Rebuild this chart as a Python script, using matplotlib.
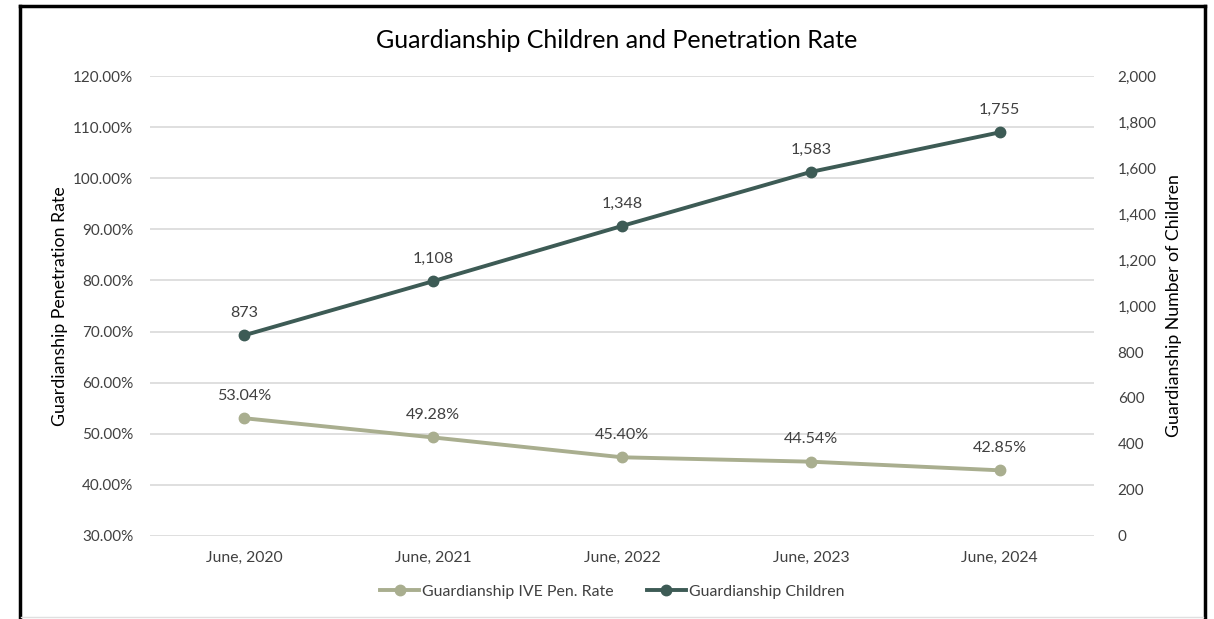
import matplotlib
matplotlib.use("Agg")
import matplotlib.pyplot as plt
from matplotlib.lines import Line2D
from matplotlib.ticker import FuncFormatter, MultipleLocator

categories = ["June, 2020", "June, 2021", "June, 2022", "June, 2023", "June, 2024"]
pen_rate = [53.04, 49.28, 45.40, 44.54, 42.85]
children = [873, 1108, 1348, 1583, 1755]

plt.rcParams['font.family'] = ['Lato', 'DejaVu Sans']
light = "#A9AE8F"
dark = "#3D5B55"
txt = "#404040"

fig = plt.figure(figsize=(12.14, 6.19), dpi=100)
ax = fig.add_axes([0.1236, 0.1341, 0.7776, 0.7431])
ax2 = ax.twinx()

x = list(range(len(categories)))
ax.plot(x, pen_rate, color=light, lw=2.8, marker='o', ms=7.5, solid_capstyle='round', zorder=3)
ax2.plot(x, children, color=dark, lw=2.8, marker='o', ms=7.5, solid_capstyle='round', zorder=3)

ax.set_xlim(-0.5, 4.5)
ax.set_ylim(30, 120)
ax2.set_ylim(0, 2000)
ax.yaxis.set_major_locator(MultipleLocator(10))
ax2.yaxis.set_major_locator(MultipleLocator(200))
ax.yaxis.set_major_formatter(FuncFormatter(lambda v, p: f"{v:.2f}%"))
ax2.yaxis.set_major_formatter(FuncFormatter(lambda v, p: f"{int(v):,}"))
ax.set_xticks(x)
ax.set_xticklabels(categories)

ax.grid(axis='y', color='#D9D9D9', lw=1.2)
ax.set_axisbelow(True)
for a in (ax, ax2):
    for s in a.spines.values():
        s.set_visible(False)
    a.tick_params(length=0, labelsize=11, colors=txt)
ax.tick_params(axis='x', labelsize=11.3)
ax.tick_params(axis='y', pad=12)
ax2.tick_params(axis='y', pad=17)
ax.tick_params(axis='x', pad=11)

ax.set_ylabel("Guardianship Penetration Rate", fontsize=12.8, color='black', labelpad=4)
ax2.set_ylabel("Guardianship Number of Children", fontsize=12.8, color='black', labelpad=7)

for xi, v in zip(x, pen_rate):
    ax.annotate(f"{v:.2f}%", (xi, v), xytext=(0, 16), textcoords='offset points',
                ha='center', va='center', fontsize=11.6, color=txt)
for xi, v in zip(x, children):
    ax2.annotate(f"{v:,}", (xi, v), xytext=(0, 16), textcoords='offset points',
                 ha='center', va='center', fontsize=11.6, color=txt)

fig.text(0.508, 0.935, "Guardianship Children and Penetration Rate", ha='center', va='center',
         fontsize=18, color='black')

handles = [Line2D([], [], color=light, lw=2.8, marker='o', ms=7.5),
           Line2D([], [], color=dark, lw=2.8, marker='o', ms=7.5)]
fig.legend(handles, ["Guardianship IVE Pen. Rate", "Guardianship Children"],
           loc='center', bbox_to_anchor=(0.504, 0.044), ncol=2, frameon=False,
           fontsize=11.4, handlelength=2.5, columnspacing=2.1, handletextpad=0.15,
           labelcolor=txt)

# chart border
W, H = 1214, 619
def fx(px): return px / W
def fy(py): return 1 - py / H
fig.add_artist(Line2D([fx(19.5), fx(19.5)], [fy(6), fy(619)], color='black', lw=2.5))
fig.add_artist(Line2D([fx(19.5), fx(1204.5)], [fy(6), fy(6)], color='black', lw=2.5))
fig.add_artist(Line2D([fx(1204.5), fx(1204.5)], [fy(6), fy(619)], color='black', lw=2.5))
fig.add_artist(Line2D([fx(21), fx(1203)], [fy(617), fy(617)], color='#E0E0E0', lw=1))

fig.savefig("out.png", dpi=100)
